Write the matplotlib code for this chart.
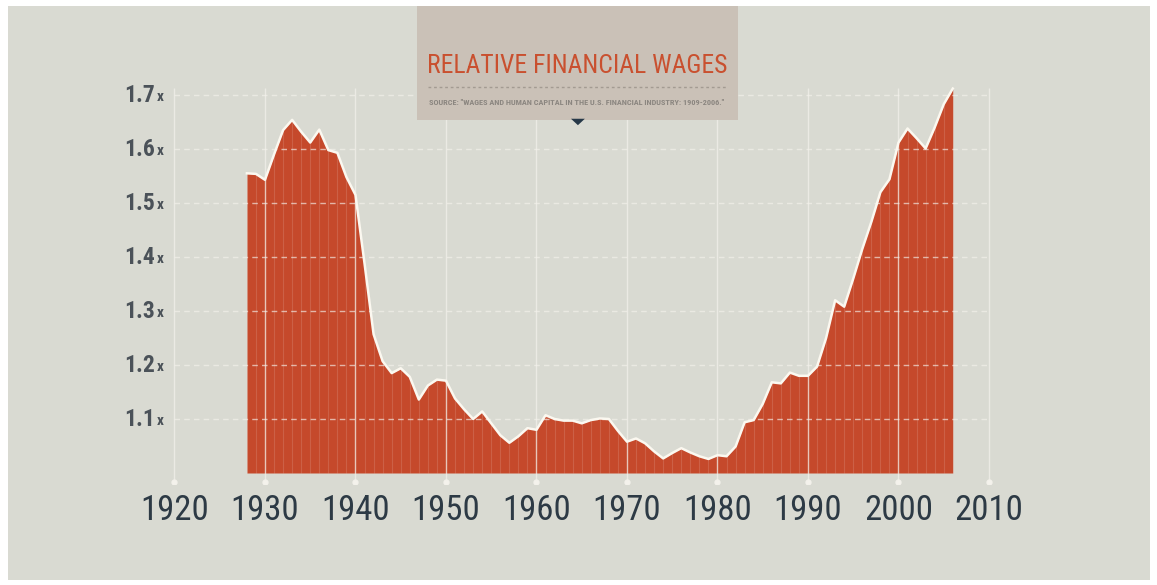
import matplotlib
matplotlib.use("Agg")
import matplotlib.pyplot as plt
from matplotlib import font_manager
from matplotlib.patches import Rectangle, Polygon
from matplotlib.lines import Line2D

# data
years = list(range(1928, 2007))
wages = [
    1.555, 1.554, 1.543, 1.590, 1.635, 1.654, 1.632, 1.612, 1.636, 1.598,
    1.593, 1.548, 1.515, 1.388, 1.257, 1.207, 1.185, 1.194, 1.178, 1.136,
    1.162, 1.173, 1.171, 1.138, 1.118, 1.100, 1.114, 1.092, 1.070, 1.056,
    1.068, 1.083, 1.080, 1.107, 1.100, 1.097, 1.097, 1.092, 1.098, 1.101,
    1.100, 1.078, 1.058, 1.064, 1.055, 1.040, 1.027, 1.037, 1.046, 1.038,
    1.031, 1.026, 1.033, 1.031, 1.049, 1.094, 1.098, 1.128, 1.168, 1.166,
    1.186, 1.180, 1.180, 1.197, 1.250, 1.320, 1.308, 1.360, 1.415, 1.465,
    1.520, 1.544, 1.612, 1.638, 1.620, 1.601, 1.640, 1.683, 1.712,
]
decades = list(range(1920, 2011, 10))
levels = [1.1, 1.2, 1.3, 1.4, 1.5, 1.6, 1.7]
level_labels = ["1.1", "1.2", "1.3", "1.4", "1.5", "1.6", "1.7"]
title = "RELATIVE FINANCIAL WAGES"
source = 'SOURCE: "WAGES AND HUMAN CAPITAL IN THE U.S. FINANCIAL INDUSTRY: 1909-2006."'

assert len(years) == len(wages)

# pick a narrow font if one is around
names = {f.name for f in font_manager.fontManager.ttflist}
narrow = "DejaVu Sans"
for cand in ["Roboto Condensed", "Liberation Sans Narrow", "Open Sans Condensed",
             "DejaVu Sans Condensed"]:
    if cand in names:
        narrow = cand
        break
stretch = "condensed"

bg = "#d9dad2"
orange = "#c5492b"
navy = "#2d3a45"
gray = "#4b5259"

fig = plt.figure(figsize=(11.57, 5.85), dpi=100, facecolor="white")
fig.patches.append(Rectangle((0.007, 0.008), 0.987, 0.982, transform=fig.transFigure,
                             facecolor=bg, edgecolor="none", zorder=-10))

ax = fig.add_axes([0.1117, 0.173, 0.7822, 0.683])
ax.set_facecolor("none")
ax.set_xlim(1915, 2015)
ax.set_ylim(0.98, 1.72)
for s in ax.spines.values():
    s.set_visible(False)

# area
ax.fill_between(years, wages, 1.0, color=orange, linewidth=0, zorder=1)
ax.vlines(years, 1.0, wages, color="white", alpha=0.13, lw=0.8, zorder=2)

# grid
ax.vlines(decades, 0.983, 1.713, color="#f4f2ec", alpha=0.7, lw=1.0, zorder=3)
ax.plot(decades, [0.983] * len(decades), "o", color="#f4f2ec", ms=3.5, zorder=3)
ax.hlines(levels, 1920, 2010, color="#f4f2ec", alpha=0.65, lw=1.0,
          linestyles=(0, (4, 3)), zorder=3)

# outline
ax.plot(years, wages, color="#fbf8f0", lw=1.8, solid_joinstyle="round", zorder=4)

# axes labels
ax.set_xticks(decades)
ax.set_xticklabels([str(d) for d in decades], fontsize=25, color=navy,
                   family=narrow, fontstretch=stretch)
ax.tick_params(axis="x", length=0, pad=7)
ax.set_yticks([])
for v, lab in zip(levels, level_labels):
    ax.text(1917.8, v, lab, ha="right", va="center", fontsize=17, fontweight="bold",
            color=gray, family=narrow, fontstretch=stretch, clip_on=False)
    ax.text(1918.0, v - 0.004, "x", ha="left", va="center", fontsize=11,
            fontweight="bold", color=gray, family=narrow, fontstretch=stretch,
            clip_on=False)

# title box
fig.patches.append(Rectangle((0.3604, 0.795), 0.2774, 0.195, transform=fig.transFigure,
                             facecolor="#cac1b7", edgecolor="none", zorder=5))
t = fig.text(0.4987, 0.888, title, ha="center", va="center", fontsize=24,
             color="#c9502f", family=narrow, fontstretch=stretch, zorder=6)
fig.canvas.draw()
w = t.get_window_extent().width
t.set_fontsize(24 * 300 / w)
fig.add_artist(Line2D([0.370, 0.629], [0.851, 0.851], transform=fig.transFigure,
                      color="#a39b92", lw=1.0, linestyle=(0, (2, 2)), zorder=6))
s = fig.text(0.4987, 0.824, source, ha="center", va="center", fontsize=6,
             color="#8b8680", family=narrow, fontstretch=stretch, fontweight="bold",
             zorder=6)
fig.canvas.draw()
w = s.get_window_extent().width
s.set_fontsize(6 * 298 / w)
fig.patches.append(Polygon([[0.4935, 0.797], [0.5055, 0.797], [0.4995, 0.786]],
                           closed=True, transform=fig.transFigure,
                           facecolor="#263848", edgecolor="none", zorder=6))

fig.savefig("out.png", dpi=100, facecolor="white")
